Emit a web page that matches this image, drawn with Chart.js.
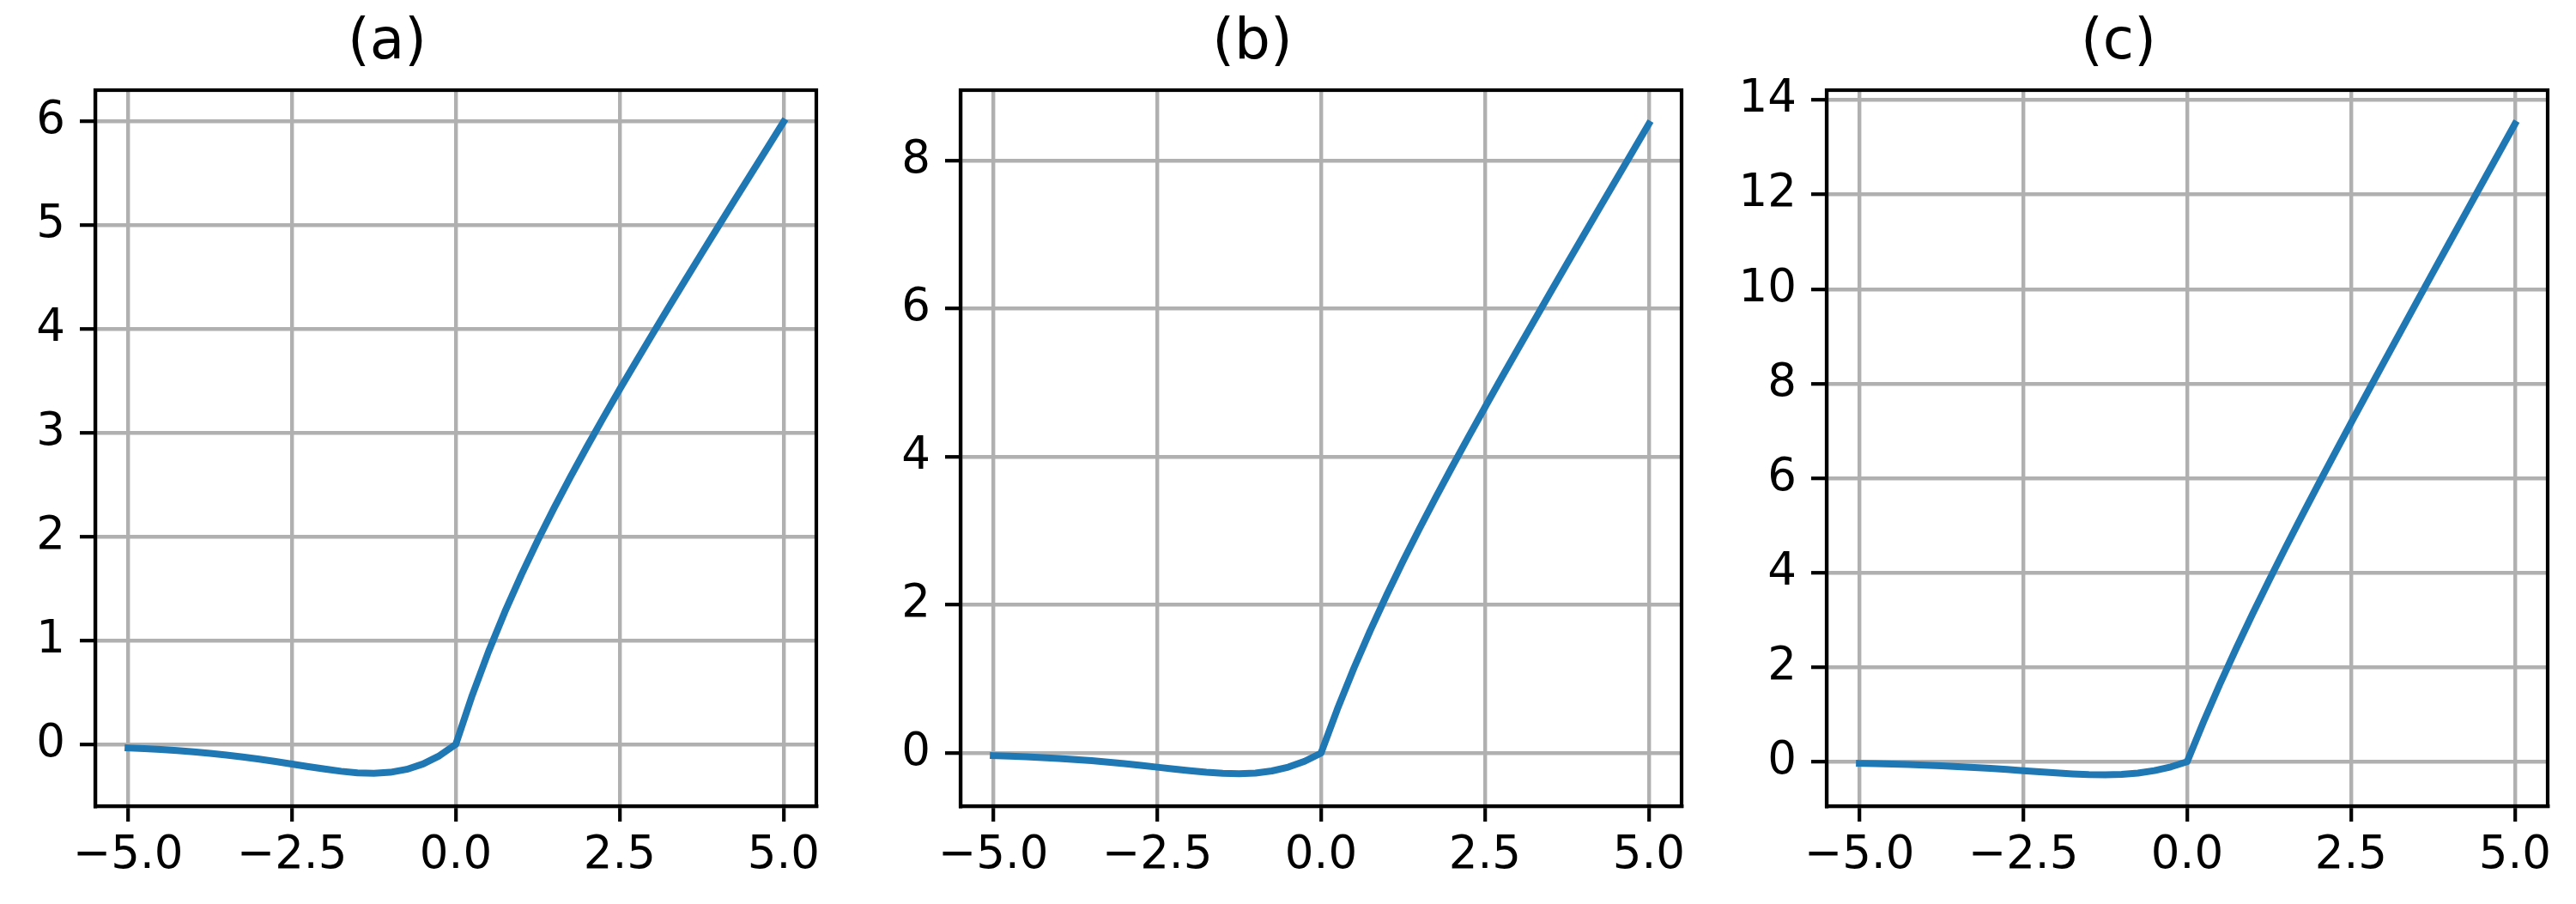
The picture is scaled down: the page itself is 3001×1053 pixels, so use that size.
<!DOCTYPE html>
<html>
<head>
<meta charset="utf-8">
<script src="https://cdn.jsdelivr.net/npm/chart.js@4.4.1/dist/chart.umd.min.js"></script>
<style>
  html, body { margin: 0; padding: 0; background: #ffffff; }
  body { width: 3001px; height: 1053px; position: relative; overflow: hidden; }
  canvas { position: absolute; top: 0; }
</style>
</head>
<body>
<canvas id="ca"></canvas>
<canvas id="cb"></canvas>
<canvas id="cc"></canvas>
<script>
// ---- data ----
const titles = ['(a)', '(b)', '(c)'];
const xTicks = [-5, -2.5, 0, 2.5, 5];
const xValues = [-5, -4.75, -4.5, -4.25, -4, -3.75, -3.5, -3.25, -3, -2.75, -2.5, -2.25, -2, -1.75, -1.5, -1.25, -1, -0.75, -0.5, -0.25,
  0, 0.25, 0.5, 0.75, 1, 1.25, 1.5, 1.75, 2, 2.25, 2.5, 2.75, 3, 3.25, 3.5, 3.75, 4, 4.25, 4.5, 4.75, 5];
const negativePart = [-0.034, -0.041, -0.049, -0.060, -0.072, -0.086, -0.103, -0.121, -0.142, -0.165, -0.190, -0.215, -0.238, -0.259, -0.274, -0.278, -0.269, -0.241, -0.189, -0.110];
const seriesA = negativePart.concat([0, 0.471, 0.894, 1.278, 1.632, 1.964, 2.277, 2.576, 2.865, 3.145, 3.418, 3.686, 3.950, 4.211, 4.470, 4.727, 4.982, 5.236, 5.489, 5.741, 5.993]);
const seriesB = negativePart.concat([0, 0.596, 1.144, 1.653, 2.132, 2.589, 3.027, 3.451, 3.865, 4.270, 4.668, 5.061, 5.450, 5.836, 6.220, 6.602, 6.982, 7.361, 7.739, 8.116, 8.493]);
const seriesC = negativePart.concat([0, 0.846, 1.644, 2.403, 3.132, 3.839, 4.527, 5.201, 5.865, 6.520, 7.168, 7.811, 8.450, 9.086, 9.720, 10.352, 10.982, 11.611, 12.239, 12.866, 13.493]);
const yTicksA = [0, 1, 2, 3, 4, 5, 6];
const yTicksB = [0, 2, 4, 6, 8];
const yTicksC = [0, 2, 4, 6, 8, 10, 12, 14];

// ---- layout / style ----
const FONT = "'DejaVu Sans', 'Liberation Sans', sans-serif";
const TICK_FONT = 53;
const TITLE_FONT = 66;
const SIDE = 160;          // space reserved left/right of plot area inside each canvas
const PLOT_W = 840;
const PLOT_TOP = 105;
const PLOT_BOTTOM = 939;
const CANVAS_H = 1053;
const LW = 4.2;
const GRID_LW = 4.4;
const TICK_LEN = 18;
const TITLE_PAD_TOP = 11.6;

const panels = [
  { id: 'ca', left: 111, title: titles[0], data: seriesA, yTicks: yTicksA, ymin: -0.595, ymax: 6.30 },
  { id: 'cb', left: 1119, title: titles[1], data: seriesB, yTicks: yTicksB, ymin: -0.716, ymax: 8.95 },
  { id: 'cc', left: 2127.5, title: titles[2], data: seriesC, yTicks: yTicksC, ymin: -0.94, ymax: 14.21 }
];

const frame = {
  id: 'frame',
  afterDatasetsDraw(chart) {
    const a = chart.chartArea, ctx = chart.ctx;
    ctx.save();
    ctx.strokeStyle = '#000';
    ctx.lineWidth = LW;
    ctx.lineJoin = 'miter';
    ctx.strokeRect(a.left, a.top, a.right - a.left, a.bottom - a.top);
    ctx.restore();
  }
};

function fmtX(v) {
  const s = Math.abs(v).toFixed(1);
  return v < 0 ? '\u2212' + s : s;
}
function fmtY(v) {
  const s = String(Math.abs(v));
  return v < 0 ? '\u2212' + s : s;
}

panels.forEach(p => {
  const cv = document.getElementById(p.id);
  const W = SIDE + PLOT_W + SIDE;
  cv.width = W; cv.height = CANVAS_H;
  cv.style.width = W + 'px'; cv.style.height = CANVAS_H + 'px';
  cv.style.left = (p.left - SIDE) + 'px';
  const pts = xValues.map((x, i) => ({ x: x, y: p.data[i] }));
  new Chart(cv.getContext('2d'), {
    type: 'line',
    data: { datasets: [{
      data: pts,
      borderColor: '#1f77b4',
      borderWidth: 8,
      borderCapStyle: 'square',
      borderJoinStyle: 'round',
      pointRadius: 0,
      tension: 0,
      fill: false
    }] },
    options: {
      responsive: false,
      animation: false,
      devicePixelRatio: 1,
      layout: { padding: { left: 0, right: SIDE, top: 0, bottom: 0 } },
      plugins: {
        legend: { display: false },
        tooltip: { enabled: false },
        title: {
          display: true,
          text: p.title,
          color: '#000',
          font: { family: FONT, size: TITLE_FONT, weight: 'normal', lineHeight: 1.2 },
          padding: { top: TITLE_PAD_TOP, bottom: PLOT_TOP - TITLE_PAD_TOP - TITLE_FONT * 1.2 }
        }
      },
      scales: {
        x: {
          type: 'linear',
          min: -5.5, max: 5.5,
          afterBuildTicks: s => { s.ticks = xTicks.map(v => ({ value: v })); },
          afterFit: s => { s.height = CANVAS_H - PLOT_BOTTOM; },
          grid: { color: '#b0b0b0', lineWidth: GRID_LW, drawTicks: true, tickLength: TICK_LEN, tickColor: '#000', tickWidth: LW },
          border: { display: true, color: '#000', width: LW },
          ticks: {
            color: '#000', font: { family: FONT, size: TICK_FONT },
            padding: 8, autoSkip: false, maxRotation: 0, minRotation: 0,
            callback: v => fmtX(v)
          }
        },
        y: {
          type: 'linear',
          min: p.ymin, max: p.ymax,
          afterBuildTicks: s => { s.ticks = p.yTicks.map(v => ({ value: v })); },
          afterFit: s => { s.width = SIDE; },
          grid: { color: '#b0b0b0', lineWidth: GRID_LW, drawTicks: true, tickLength: TICK_LEN, tickColor: '#000', tickWidth: LW },
          border: { display: true, color: '#000', width: LW },
          ticks: {
            color: '#000', font: { family: FONT, size: TICK_FONT },
            padding: 17, autoSkip: false,
            callback: v => fmtY(v)
          }
        }
      }
    },
    plugins: [frame]
  });
});
</script>
</body>
</html>
